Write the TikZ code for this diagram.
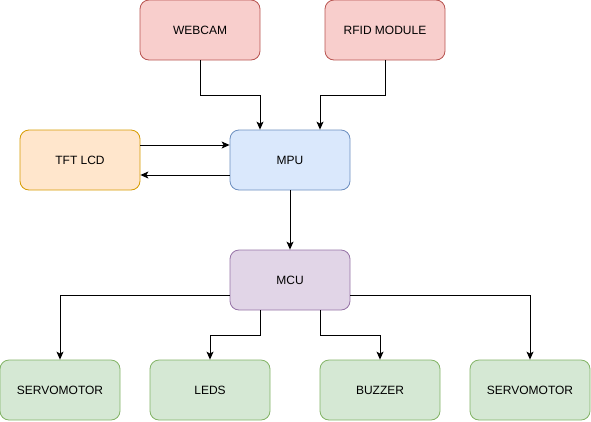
\documentclass[tikz,border=0pt]{standalone}
\usepackage{fontspec}
\setmainfont{Liberation Sans}
\usetikzlibrary{arrows.meta}

\definecolor{redfill}{HTML}{F8CECC}
\definecolor{redline}{HTML}{B85450}
\definecolor{orangefill}{HTML}{FFE6CC}
\definecolor{orangeline}{HTML}{D79B00}
\definecolor{bluefill}{HTML}{DAE8FC}
\definecolor{blueline}{HTML}{6C8EBF}
\definecolor{purplefill}{HTML}{E1D5E7}
\definecolor{purpleline}{HTML}{9673A6}
\definecolor{greenfill}{HTML}{D5E8D4}
\definecolor{greenline}{HTML}{82B366}

\begin{document}
\begin{tikzpicture}[x=1pt,y=-1pt]
\tikzstyle{every node}+=[inner sep=0pt]
\tikzstyle{block}=[draw, rounded corners=9pt, line width=0.8pt, minimum width=120pt, minimum height=60pt, font=\fontsize{12}{14}\selectfont]
\tikzstyle{arr}=[line width=0.9pt, -{Stealth[length=8pt,width=7pt,inset=2pt]}]
\useasboundingbox (0,0) rectangle (591,421);
% input devices
\node [block, fill=redfill, draw=redline] (webcam) at (200,30) {WEBCAM};
\node [block, fill=redfill, draw=redline] (rfid) at (385,30) {RFID MODULE};
% processing
\node [block, fill=orangefill, draw=orangeline] (tft) at (80,160) {TFT LCD};
\node [block, fill=bluefill, draw=blueline] (mpu) at (290,160) {MPU};
\node [block, fill=purplefill, draw=purpleline] (mcu) at (290,280) {MCU};
% outputs
\node [block, fill=greenfill, draw=greenline] (servoa) at (60,390) {SERVOMOTOR};
\node [block, fill=greenfill, draw=greenline] (leds) at (210,390) {LEDS};
\node [block, fill=greenfill, draw=greenline] (buzzer) at (380,390) {BUZZER};
\node [block, fill=greenfill, draw=greenline] (servob) at (530,390) {SERVOMOTOR};
% connectors
\draw [arr] (webcam.south) -- ++(0,35) -| ([xshift=-30pt]mpu.north);
\draw [arr] (rfid.south) -- ++(0,35) -| ([xshift=30pt]mpu.north);
\draw [arr] ([yshift=15pt]tft.east) -- ([yshift=15pt]mpu.west);
\draw [arr] ([yshift=-15pt]mpu.west) -- ([yshift=-15pt]tft.east);
\draw [arr] (mpu.south) -- (mcu.north);
\draw [arr] ([yshift=-15pt]mcu.west) -| (servoa.north);
\draw [arr] ([xshift=-30pt]mcu.south) -- ++(0,25) -| (leds.north);
\draw [arr] ([xshift=30pt]mcu.south) -- ++(0,25) -| (buzzer.north);
\draw [arr] ([yshift=-15pt]mcu.east) -| (servob.north);
\end{tikzpicture}
\end{document}
